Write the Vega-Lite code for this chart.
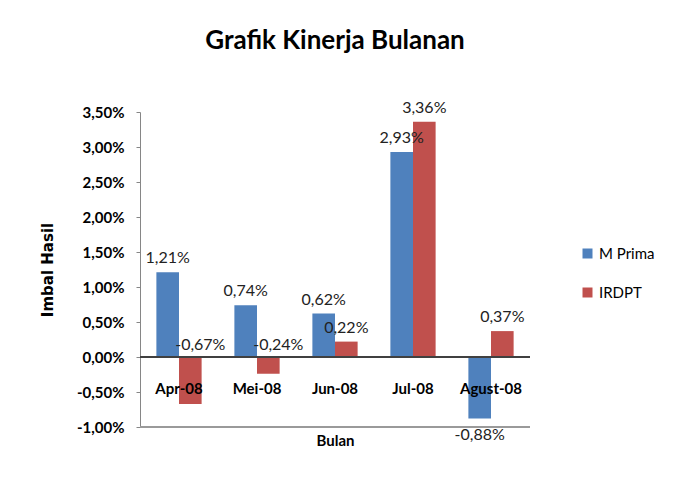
{
  "$schema": "https://vega.github.io/schema/vega-lite/v6.json",
  "autosize": "none",
  "width": 390,
  "height": 315,
  "padding": {"left": 140, "top": 112, "right": 152, "bottom": 50},
  "background": "white",
  "config": {
    "font": "Lato",
    "view": {"stroke": null},
    "locale": {"number": {"decimal": ",", "thousands": ".", "grouping": [3], "currency": ["", ""], "percent": "%", "minus": "-"}}
  },
  "title": {"text": "Grafik Kinerja Bulanan", "fontSize": 26, "font": "Lato", "fontWeight": "bold", "color": "#000000", "offset": 46, "anchor": "middle"},
  "data": {"values": [
    {"bulan": "Apr-08", "seri": "M Prima", "nilai": 0.0121},
    {"bulan": "Apr-08", "seri": "IRDPT", "nilai": -0.0067},
    {"bulan": "Mei-08", "seri": "M Prima", "nilai": 0.0074},
    {"bulan": "Mei-08", "seri": "IRDPT", "nilai": -0.0024},
    {"bulan": "Jun-08", "seri": "M Prima", "nilai": 0.0062},
    {"bulan": "Jun-08", "seri": "IRDPT", "nilai": 0.0022},
    {"bulan": "Jul-08", "seri": "M Prima", "nilai": 0.0293},
    {"bulan": "Jul-08", "seri": "IRDPT", "nilai": 0.0336},
    {"bulan": "Agust-08", "seri": "M Prima", "nilai": -0.0088},
    {"bulan": "Agust-08", "seri": "IRDPT", "nilai": 0.0037}
  ]},
  "layer": [
    {
      "mark": {"type": "bar"},
      "encoding": {
        "x": {"field": "bulan", "type": "nominal", "sort": null,
          "scale": {"paddingInner": 0.42, "paddingOuter": 0.21},
          "axis": {"orient": "bottom", "offset": -46, "zindex": 1, "domain": false, "ticks": false, "labelAngle": 0, "labelPadding": 0, "labelFontSize": 15, "labelFontWeight": "bold", "labelColor": "#000000", "title": "Bulan", "titleFontSize": 15, "titleFontWeight": "bold", "titleColor": "#000000", "titlePadding": 37}},
        "xOffset": {"field": "seri", "type": "nominal", "sort": ["M Prima", "IRDPT"]},
        "y": {"field": "nilai", "type": "quantitative",
          "scale": {"domain": [-0.01, 0.035], "nice": false},
          "axis": {"format": ".2%", "values": [-0.01, -0.005, 0, 0.005, 0.01, 0.015, 0.02, 0.025, 0.03, 0.035], "tickCount": 10, "labelOverlap": false, "grid": false, "domainColor": "#868686", "tickColor": "#868686", "tickSize": 4, "labelPadding": 12, "labelFontSize": 15, "labelFontWeight": "bold", "labelColor": "#000000", "title": "Imbal Hasil", "titleFont": "DejaVu Sans", "titleFontSize": 15, "titleFontWeight": "bold", "titleColor": "#000000", "titleX": -93, "titleBaseline": "middle"}},
        "color": {"field": "seri", "type": "nominal", "sort": ["M Prima", "IRDPT"],
          "scale": {"domain": ["M Prima", "IRDPT"], "range": ["#4F81BD", "#C0504D"]},
          "legend": {"title": null, "orient": "none", "legendX": 440, "legendY": 134, "symbolType": "square", "symbolSize": 100, "symbolStrokeWidth": 0, "labelFontSize": 15, "labelColor": "#000000", "rowPadding": 23, "labelOffset": 4}}
      }
    },
    {
      "mark": {"type": "rule", "color": "#9a9a9a", "strokeWidth": 1.5},
      "encoding": {"y": {"datum": -0.01, "type": "quantitative"}}
    },
    {
      "mark": {"type": "rule", "color": "#404040", "strokeWidth": 1.5},
      "encoding": {"y": {"datum": 0, "type": "quantitative"}}
    },
    {
      "transform": [{"filter": "datum.nilai >= 0"}],
      "mark": {"type": "text", "baseline": "bottom", "dy": -6, "fontSize": 16, "color": "#222222"},
      "encoding": {
        "x": {"field": "bulan", "type": "nominal", "sort": null},
        "xOffset": {"field": "seri", "type": "nominal", "sort": ["M Prima", "IRDPT"]},
        "y": {"field": "nilai", "type": "quantitative"},
        "text": {"field": "nilai", "type": "quantitative", "format": ".2%"}
      }
    },
    {
      "transform": [{"filter": "datum.nilai < 0 && datum.seri == 'IRDPT'"}],
      "mark": {"type": "text", "baseline": "bottom", "dy": -4, "dx": 10, "fontSize": 16, "color": "#222222"},
      "encoding": {
        "x": {"field": "bulan", "type": "nominal", "sort": null},
        "xOffset": {"field": "seri", "type": "nominal", "sort": ["M Prima", "IRDPT"]},
        "y": {"datum": 0, "type": "quantitative"},
        "text": {"field": "nilai", "type": "quantitative", "format": ".2%"}
      }
    },
    {
      "transform": [{"filter": "datum.nilai < 0 && datum.seri == 'M Prima'"}],
      "mark": {"type": "text", "baseline": "top", "dy": 8, "fontSize": 16, "color": "#222222"},
      "encoding": {
        "x": {"field": "bulan", "type": "nominal", "sort": null},
        "xOffset": {"field": "seri", "type": "nominal", "sort": ["M Prima", "IRDPT"]},
        "y": {"field": "nilai", "type": "quantitative"},
        "text": {"field": "nilai", "type": "quantitative", "format": ".2%"}
      }
    }
  ]
}
